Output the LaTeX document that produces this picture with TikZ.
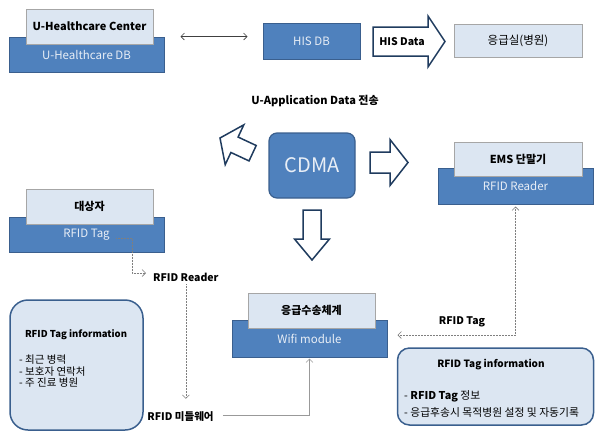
\documentclass[tikz,border=0pt]{standalone}
\usepackage{fontspec}
\setmainfont{Noto Sans CJK KR}
\usetikzlibrary{arrows.meta,calc}

\definecolor{boxblue}{HTML}{4F81BD}
\definecolor{boxedge}{HTML}{3A5F8E}
\definecolor{paleblue}{HTML}{DCE6F2}
\definecolor{paleedge}{HTML}{A6A6A6}
\definecolor{arrowedge}{HTML}{1F3B5E}
\definecolor{linegray}{HTML}{7F7F7F}
\definecolor{paletext}{HTML}{E8EEF6}

% block arrow: #1 tip position, #2 rotation, #3 total length,
% #4 head length, #5 head half-width, #6 shaft half-width
\newcommand{\blockarrow}[6]{%
  \draw[blockarrowline, shift={#1}, rotate=#2]
    (0,0) -- (-#4,#5) -- (-#4,#6) -- (-#3,#6) -- (-#3,-#6)
    -- (-#4,-#6) -- (-#4,-#5) -- cycle;}

\tikzset{
  darkbox/.style={draw=boxedge, fill=boxblue, line width=1pt, text=paletext,
    font=\fontsize{11.5}{13}\selectfont, inner sep=0pt},
  lightbox/.style={draw=paleedge, fill=paleblue, line width=0.8pt, text=black,
    font=\bfseries\fontsize{11}{13}\selectfont, inner sep=0pt},
  plainbox/.style={draw=paleedge, fill=paleblue, line width=0.8pt, text=black,
    font=\fontsize{11.5}{13}\selectfont, inner sep=0pt},
  cdmabox/.style={draw=boxedge, fill=boxblue, line width=1.2pt, text=paletext,
    rounded corners=8pt, font=\fontsize{20}{24}\selectfont, inner sep=0pt},
  infobox/.style={draw=boxedge, fill=paleblue, line width=1.5pt, inner sep=0pt},
  boldlabel/.style={font=\bfseries\fontsize{10.5}{12}\selectfont, inner sep=1pt},
  infotitle/.style={font=\bfseries\fontsize{9.5}{11}\selectfont, inner sep=0pt},
  infolist/.style={font=\fontsize{10.5}{11.5}\selectfont, align=left, inner sep=0pt},
  blockarrowline/.style={draw=arrowedge, fill=white, line width=1.5pt, line join=miter},
  thinline/.style={draw=black!75, line width=0.6pt},
  dotline/.style={draw=linegray, line width=0.6pt, dash pattern=on 0.7pt off 0.8pt},
  solidline/.style={draw=linegray!80, line width=0.6pt},
}

\begin{document}
\begin{tikzpicture}[x=1pt, y=-1pt, >={Straight Barb[length=3.5pt,width=7pt]}]
\useasboundingbox (0,0) rectangle (596,432);

% ---- top row: centre, hospital DB, emergency room
\node[darkbox, minimum width=155pt, minimum height=35pt] (udb) at (86.5,54.5) {U-Healthcare DB};
\node[lightbox, minimum width=127pt, minimum height=35pt] (uctr) at (89.5,26.5) {U-Healthcare Center};
\node[darkbox, minimum width=97pt, minimum height=36pt] (hisdb) at (311.5,41) {HIS DB};
\node[plainbox, minimum width=128pt, minimum height=33pt] (er) at (518,40.5) {응급실(병원)};

\draw[thinline, <->] ([xshift=16pt]udb.north east) -- ($(hisdb.west |- udb.north east)+(-15,0)$);

\blockarrow{(445,41.5)}{0}{72}{17}{25.5}{14.5}
\node[boldlabel] (hisdata) at (402,41.5) {HIS Data};

% ---- CDMA hub and its block arrows
\node[boldlabel, font=\bfseries\fontsize{11}{13}\selectfont] (uapp) at (315,101) {U-Application Data 전송};
\node[cdmabox, minimum width=86pt, minimum height=65pt] (cdma) at (312,165.5) {CDMA};

\blockarrow{(220,138)}{155}{36}{16}{22}{8.5}
\blockarrow{(408,162.5)}{0}{38}{18}{23}{10.5}
\blockarrow{(312,260)}{-90}{50}{21}{17.5}{9}

% ---- EMS terminal
\node[darkbox, minimum width=155pt, minimum height=36pt] (rreader) at (515.5,186) {RFID Reader};
\node[lightbox, minimum width=128pt, minimum height=34pt] (ems) at (518,159) {EMS 단말기};

% ---- patient with tag
\node[darkbox, minimum width=155pt, minimum height=35pt] (tag) at (86.5,234.5) {RFID Tag};
\node[lightbox, minimum width=127pt, minimum height=35pt] (subj) at (89.5,206.5) {대상자};

\coordinate (tagout) at (116,238);
\node[boldlabel, anchor=west] (rlabel) at (152,277) {RFID Reader};
\draw[dotline, ->] (tagout) -- ++(16,0) |- ([xshift=-6pt,yshift=4pt]rlabel.west);

\node[boldlabel] (mw) at (180.5,417) {RFID 미들웨어};
\draw[dotline, ->] ([yshift=-2pt]rlabel.south) -- ($(rlabel.south |- mw.north)+(0,-12)$);

% ---- emergency transport system
\node[darkbox, minimum width=155pt, minimum height=37pt] (wifi) at (309.5,338.5) {Wifi module};
\node[lightbox, minimum width=127pt, minimum height=35pt] (trans) at (311.5,310.5) {응급수송체계};

\draw[solidline, ->] ([xshift=8pt,yshift=2pt]mw.east) -| ([yshift=-1pt]wifi.south);

\coordinate (bend) at (515.5,335);
\draw[dotline, <->, shorten <=2pt, shorten >=10pt] (rreader.south) -- (bend) -- (wifi.east |- bend);
\node[boldlabel] (tagl) at (462,322) {RFID Tag};

% ---- tag information boxes
\node[infobox, rounded corners=18pt, minimum width=133pt, minimum height=130pt] (info1) at (76.5,365) {};
\node[infotitle] (info1t) at (76,335) {RFID Tag information};
\node[infolist, anchor=north west] (info1l) at (19,355) {- 최근 병력\\- 보호자 연락처\\- 주 진료 병원};

\node[infobox, rounded corners=12pt, minimum width=196pt, minimum height=77pt] (info2) at (495.5,386.5) {};
\node[infotitle, font=\bfseries\fontsize{10}{12}\selectfont] (info2t) at (491,365) {RFID Tag information};
\node[infolist, anchor=west, font=\fontsize{10.8}{17}\selectfont] (info2l) at (404,403.5) {- \textbf{RFID Tag} 정보\\- 응급후송시 목적병원 설정 및 자동기록};
\end{tikzpicture}
\end{document}
